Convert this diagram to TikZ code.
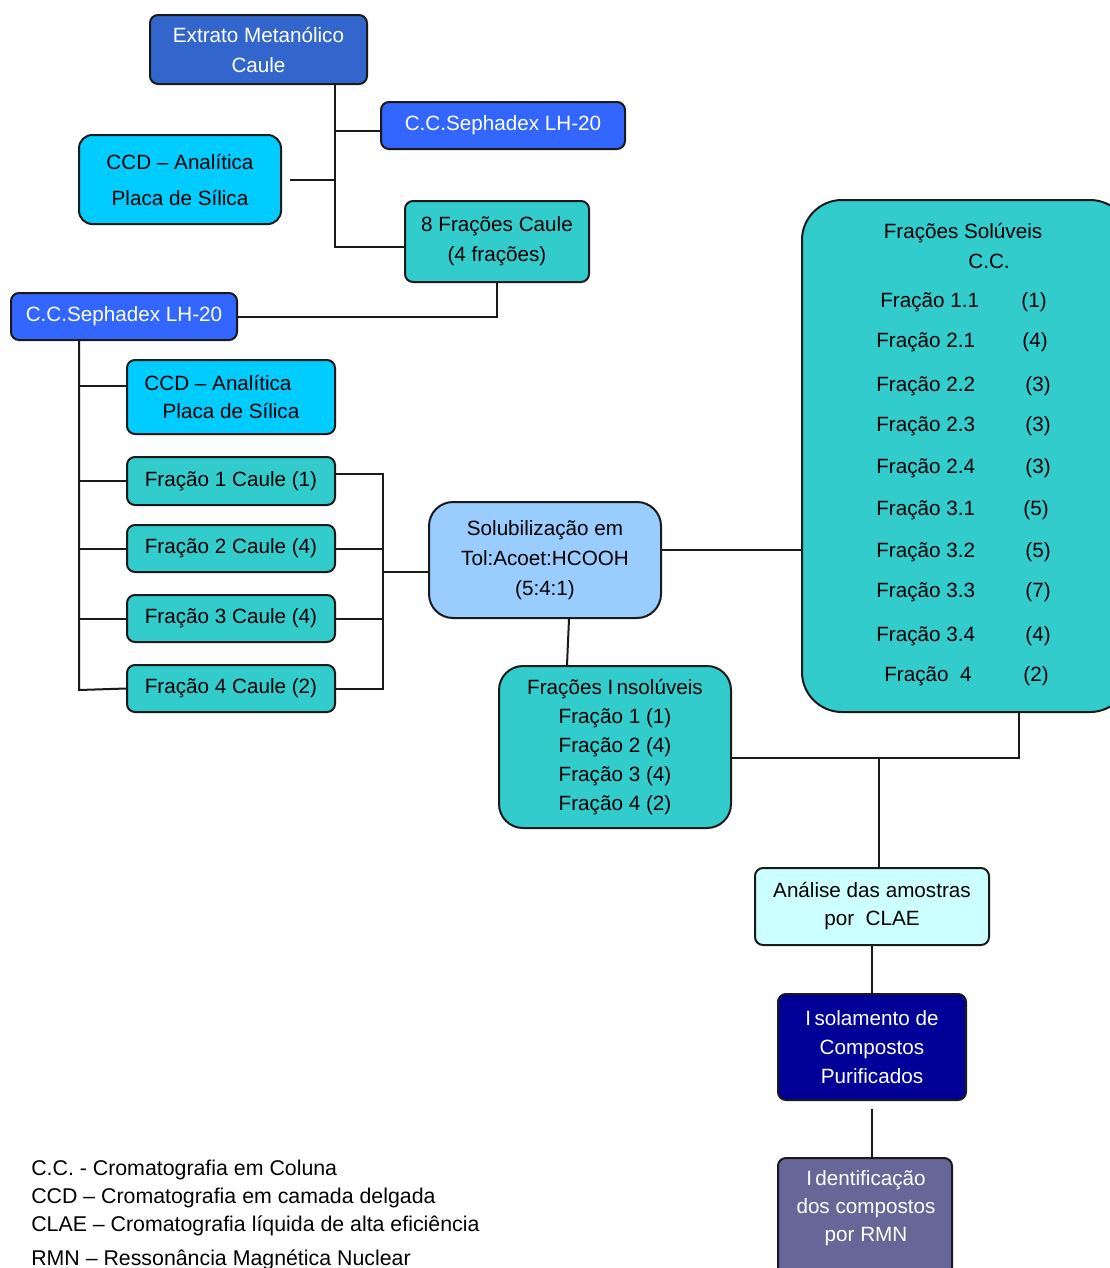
\documentclass[tikz,border=0pt]{standalone}
\usepackage{fontspec}
\setmainfont{Liberation Sans}
\definecolor{cExt}{HTML}{3366CC}
\definecolor{cSep}{HTML}{3366FF}
\definecolor{cCCD}{HTML}{00CCFF}
\definecolor{cTeal}{HTML}{33CCCC}
\definecolor{cSolub}{HTML}{99CCFF}
\definecolor{cClae}{HTML}{CCFFFF}
\definecolor{cIsol}{HTML}{000099}
\definecolor{cIdent}{HTML}{666699}
\definecolor{cLine}{HTML}{1A1A1A}
\newcommand\bx[7]{\node[#6, minimum width={0.75pt*(#4-#2)}, minimum height={0.75pt*(#5-#3)}] (#1) at ({(#2+#4)/2},{(#3+#5)/2}) {#7};}
\begin{document}
\begin{tikzpicture}[x=0.75pt,y=-0.75pt,
  base/.style={draw=cLine, line width=1.5pt, rounded corners=6pt, inner sep=0pt, align=center, font=\fontsize{15.5}{22.5}\selectfont},
  link/.style={draw=cLine, line width=1.5pt},
  soltxt/.style={inner sep=0pt, font=\fontsize{15.5}{22.5}\selectfont, text height=13pt, text depth=3pt},
  legend/.style={inner sep=0pt, anchor=west, font=\fontsize{16}{22.5}\selectfont, text height=13pt, text depth=3pt}]
\clip (0,0) rectangle (1110,1268);
% boxes
\bx{extrato}{150}{15}{367}{84}{base, fill=cExt, text=white}{Extrato Metanólico\\Caule}
\bx{sep1}{381}{102}{625}{149}{base, fill=cSep, text=white}{C.C.Sephadex LH-20}
\bx{ccd1}{79}{135}{281}{224}{base, fill=cCCD, rounded corners=10pt}{CCD – Analítica\\[4.5pt]Placa de Sílica}
\bx{frac8}{405}{201}{589}{282}{base, fill=cTeal}{8 Frações Caule\\(4 frações)}
\bx{sep2}{11}{293}{237}{340}{base, fill=cSep, text=white}{C.C.Sephadex LH-20}
\bx{ccd2}{127}{360}{335}{434}{base, fill=cCCD, font=\fontsize{15.5}{21}\selectfont}{CCD – Analítica\hspace*{19.5pt}\\Placa de Sílica}
\bx{f1}{127}{457}{335}{505}{base, fill=cTeal}{Fração 1 Caule (1)}
\bx{f2}{127}{525}{335}{572}{base, fill=cTeal}{Fração 2 Caule (4)}
\bx{f3}{127}{595}{335}{642}{base, fill=cTeal}{Fração 3 Caule (4)}
\bx{f4}{127}{665}{335}{712}{base, fill=cTeal}{Fração 4 Caule (2)}
\bx{solub}{429}{502}{661}{618}{base, fill=cSolub, rounded corners=18pt}{Solubilização em\\Tol:Acoet:HCOOH\\(5:4:1)}
\bx{insol}{499}{666}{731}{828}{base, fill=cTeal, rounded corners=18pt, font=\fontsize{15.5}{21.75}\selectfont}{Frações I\kern2.5pt nsolúveis\\Fração 1 (1)\\Fração 2 (4)\\Fração 3 (4)\\Fração 4 (2)}
\bx{sol}{802}{200}{1130}{712}{base, fill=cTeal, rounded corners=30pt}{}
\bx{clae}{755}{868}{989}{945}{base, fill=cClae, font=\fontsize{15.5}{21}\selectfont}{Análise das amostras\\por\ \ CLAE}
\bx{isol}{778}{994}{966}{1100}{base, fill=cIsol, text=white, font=\fontsize{15.5}{21.75}\selectfont}{I\kern2.5pt solamento de\\Compostos\\Purificados}
\bx{ident}{778}{1158}{952}{1290}{base, fill=cIdent}{}
\node[inner sep=0pt, align=center, text=white, font=\fontsize{15.5}{21}\selectfont] (identtxt) at (866,1208) {I\kern2.5pt dentificação\\dos compostos\\por RMN};
% soluble fractions text
\node[soltxt] (solT) at (963,232) {Frações Solúveis};
\node[soltxt] (solCC) at (989,262) {C.C.};
\node[soltxt, anchor=west] (r1) at (880,301) {Fração 1.1};  \node[soltxt] (v1) at (1034,301) {(1)};
\node[soltxt, anchor=west] (r2) at (876,341) {Fração 2.1};  \node[soltxt] (v2) at (1035,341) {(4)};
\node[soltxt, anchor=west] (r3) at (876,385) {Fração 2.2};  \node[soltxt] (v3) at (1038,385) {(3)};
\node[soltxt, anchor=west] (r4) at (876,425) {Fração 2.3};  \node[soltxt] (v4) at (1038,425) {(3)};
\node[soltxt, anchor=west] (r5) at (876,467) {Fração 2.4};  \node[soltxt] (v5) at (1038,467) {(3)};
\node[soltxt, anchor=west] (r6) at (876,509) {Fração 3.1};  \node[soltxt] (v6) at (1036,509) {(5)};
\node[soltxt, anchor=west] (r7) at (876,551) {Fração 3.2};  \node[soltxt] (v7) at (1038,551) {(5)};
\node[soltxt, anchor=west] (r8) at (876,591) {Fração 3.3};  \node[soltxt] (v8) at (1038,591) {(7)};
\node[soltxt, anchor=west] (r9) at (876,635) {Fração 3.4};  \node[soltxt] (v9) at (1038,635) {(4)};
\node[soltxt, anchor=west] (r10) at (884,675) {Fração\ \ 4}; \node[soltxt] (v10) at (1036,675) {(2)};
% legend
\node[legend] (lg1) at (31,1169) {C.C. - Cromatografia em Coluna};
\node[legend] (lg2) at (31,1197) {CCD – Cromatografia em camada delgada};
\node[legend] (lg3) at (31,1225) {CLAE – Cromatografia líquida de alta eficiência};
\node[legend] (lg4) at (31,1259) {RMN – Ressonância Magnética Nuclear};
% connectors
\coordinate (j1) at (335,247);
\draw[link] (extrato.south -| j1) |- (frac8.west |- j1);
\draw[link] ([yshift=-3.75pt]sep1.west) -- ([yshift=-3.75pt]sep1.west -| j1);
\draw[link] ([xshift=6pt]ccd1.east) -- (ccd1.east -| j1);
\draw[link] (frac8.south) |- (sep2.east);
\coordinate (k) at (79,690);
\draw[link] (sep2.south -| k) -- (k) -- (f4.west);
\draw[link] ([yshift=8.25pt]ccd2.west) -- ([yshift=8.25pt]ccd2.west -| k);
\draw[link] (f1.west) -- (f1.west -| k);
\draw[link] (f2.west) -- (f2.west -| k);
\draw[link] (f3.west) -- (f3.west -| k);
\coordinate (m) at (383,572);
\draw[link] ([yshift=5.25pt]f1.east) -- ([yshift=5.25pt]f1.east -| m) -- (f4.east -| m) -- (f4.east);
\draw[link] (f2.east) -- (f2.east -| m);
\draw[link] (f3.east) -- (f3.east -| m);
\draw[link] (m) -- (solub.west |- m);
\draw[link] ([yshift=7.5pt]solub.east) -- ([yshift=7.5pt]solub.east -| sol.west);
\draw[link] ([xshift=18pt]solub.south) -- ([xshift=-36pt]insol.north);
\coordinate (n) at (879,758);
\coordinate (n2) at (1019,758);
\draw[link] (insol.east |- n) -- (n2) -- (n2 |- sol.south);
\draw[link] (n) -- (n |- clae.north);
\draw[link] (clae.south) -- (clae.south |- isol.north);
\draw[link] ([yshift=-6pt]isol.south) -- (isol.south |- ident.north);
\end{tikzpicture}
\end{document}
